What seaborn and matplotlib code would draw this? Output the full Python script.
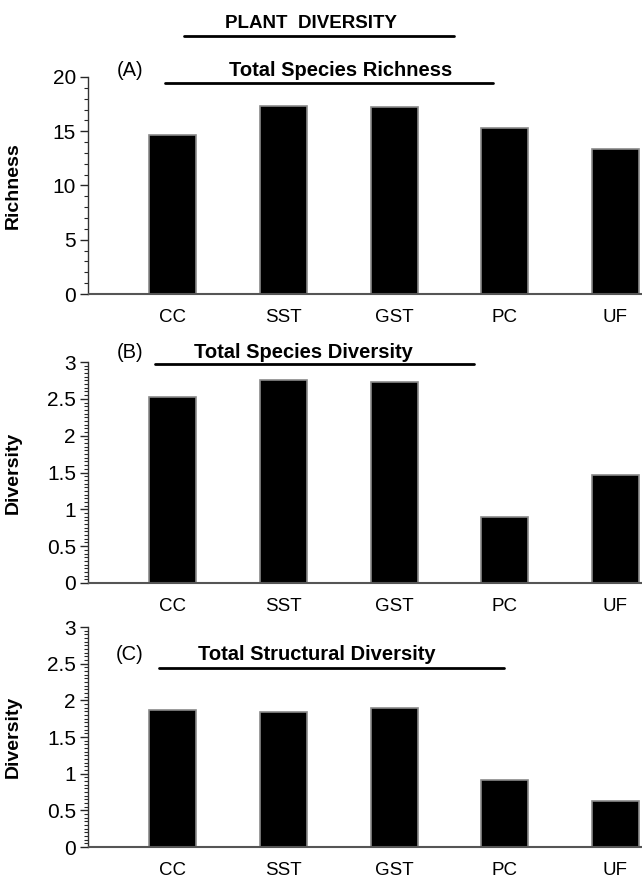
import matplotlib
matplotlib.use('Agg')
import matplotlib.pyplot as plt
import seaborn as sns
from matplotlib.lines import Line2D
from matplotlib.ticker import MultipleLocator

# Data
sites = ['CC', 'SST', 'GST', 'PC', 'UF']
richness = [14.7, 17.3, 17.2, 15.3, 13.4]
species_diversity = [2.53, 2.76, 2.73, 0.89, 1.46]
structural_diversity = [1.87, 1.84, 1.89, 0.91, 0.63]

sns.set_style('white')
plt.rcParams['font.family'] = ['Liberation Sans', 'DejaVu Sans']
plt.rcParams['text.color'] = 'black'

fig = plt.figure(figsize=(6.42, 8.8), dpi=100)

W, H = 642, 880
left = 88.5 / W

# (values, ylabel, ymax, major, minor, letter, title, axis top px, axis bottom px,
#  title y px, underline y px, underline x0, x1, title x px)
panels = [
    (richness, 'Richness', 20, 5, 1, '(A)', 'Total Species Richness',
     77, 294, 71, 83, 165, 493, 341),
    (species_diversity, 'Diversity', 3, 0.5, 0.05, '(B)', 'Total Species Diversity',
     362, 583, 352, 364, 155, 474, 303),
    (structural_diversity, 'Diversity', 3, 0.5, 0.05, '(C)', 'Total Structural Diversity',
     627, 847, 654, 668, 159, 504, 317),
]

for vals, ylab, ymax, major, minor, letter, title, top, bot, ty, uy, ux0, ux1, tx in panels:
    ax = fig.add_axes([left, 1 - bot / H, 1 - left, (bot - top) / H])
    sns.barplot(x=sites, y=vals, color='black', saturation=1, width=0.425,
                edgecolor='#8a8a8a', linewidth=1.2, ax=ax)
    ax.set_xlim(-0.76, 4.24)
    ax.set_ylim(0, ymax)
    ax.yaxis.set_major_locator(MultipleLocator(major))
    ax.yaxis.set_minor_locator(MultipleLocator(minor))
    ax.yaxis.set_major_formatter(matplotlib.ticker.FuncFormatter(lambda v, p: f'{v:g}'))
    ax.tick_params(axis='y', which='major', direction='out', length=6, width=1,
                   labelsize=15, left=True, pad=3, labelcolor='black')
    ax.tick_params(axis='y', which='minor', direction='out', length=3, width=0.8, left=True)
    ax.tick_params(axis='x', length=0, labelsize=13.5, pad=11, labelcolor='black')
    for s in ['top', 'right']:
        ax.spines[s].set_visible(False)
    ax.spines['left'].set_color('#333333')
    ax.spines['left'].set_linewidth(1)
    ax.spines['bottom'].set_color('#555555')
    ax.spines['bottom'].set_linewidth(1.5)
    ax.set_ylabel(ylab, fontsize=14, fontweight='bold', color='black')
    ax.yaxis.set_label_coords((22 - 88.5) / (W - 88.5), 0.5)
    ax.set_xlabel('')

    fig.text(130 / W, 1 - ty / H, letter, fontsize=14.5, ha='center', va='center')
    fig.text(tx / W, 1 - ty / H, title, fontsize=14.5, fontweight='bold',
             ha='center', va='center')
    fig.add_artist(Line2D([ux0 / W, ux1 / W], [1 - uy / H, 1 - uy / H],
                          color='black', linewidth=2))

fig.text(311 / W, 1 - 23 / H, 'PLANT  DIVERSITY', fontsize=13.5, fontweight='bold',
         ha='center', va='center')
fig.add_artist(Line2D([184 / W, 454 / W], [1 - 36 / H, 1 - 36 / H],
                      color='black', linewidth=2))

fig.savefig('out.png', dpi=100)
